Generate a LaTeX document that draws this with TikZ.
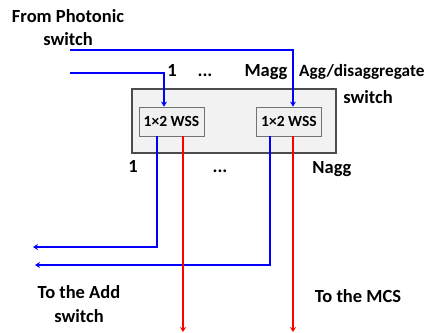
\documentclass[tikz,border=0pt]{standalone}
\usepackage{fontspec}
\setmainfont{Carlito}
\usetikzlibrary{arrows.meta}
\begin{document}
\begin{tikzpicture}[x=1pt,y=-1pt,
  lbl/.style={font=\bfseries\fontsize{18.5}{23}\selectfont, inner sep=0pt, anchor=base},
  wss/.style={draw=black!55, fill=black!6, line width=0.8pt, minimum width=65pt, minimum height=29pt, inner sep=0pt, font=\bfseries\fontsize{15.5}{18}\selectfont},
  outer/.style={draw=black!70, fill=black!5, line width=1.2pt},
  bl/.style={draw=blue, line width=2pt, -{Stealth[length=5pt,width=6pt]}},
  rd/.style={draw=red, line width=2pt, -{Stealth[length=5pt,width=6pt]}}]
\useasboundingbox (0,0) rectangle (433,332);
\node[outer, minimum width=204pt, minimum height=64pt, inner sep=0pt] (box) at (234,121) {};
\node[wss] (w1) at (171.5,121.5) {1×2 WSS};
\node[wss] (w2) at (289,121.5) {1×2 WSS};
\coordinate (in1) at (70,73);
\coordinate (in2) at (70,50);
\draw[bl] (in1) -| (w1.north -| 164,0);
\draw[bl] (in2) -| (w2.north -| 293,0);
\coordinate (o1) at (33,247);
\coordinate (o2) at (35,265);
\draw[bl] (w1.south -| 157,0) |- (o1);
\draw[bl] (w2.south -| 270,0) |- (o2);
\coordinate (r1) at (183,332);
\coordinate (r2) at (293,332);
\draw[rd] (w1.south -| 183,0) -- (r1);
\draw[rd] (w2.south -| 293,0) -- (r2);
\node[lbl] (t1) at (68,22) {From Photonic};
\node[lbl] (t1b) at (68,45) {switch};
\node[lbl] (n1) at (172,76) {1};
\node[lbl] (d1) at (205,76) {...};
\node[lbl] (ma) at (266,76) {Magg};
\node[lbl, anchor=base west, font=\bfseries\fontsize{17.2}{21}\selectfont] (ag) at (299,76) {Agg/disaggregate};
\node[lbl] (agb) at (368,103) {switch};
\node[lbl] (n2) at (133,172.5) {1};
\node[lbl] (d2) at (220,172.5) {...};
\node[lbl] (na) at (332,173) {Nagg};
\node[lbl] (ta) at (79,298) {To the Add};
\node[lbl] (tab) at (79,322) {switch};
\node[lbl] (tm) at (358,302) {To the MCS};
\end{tikzpicture}
\end{document}
